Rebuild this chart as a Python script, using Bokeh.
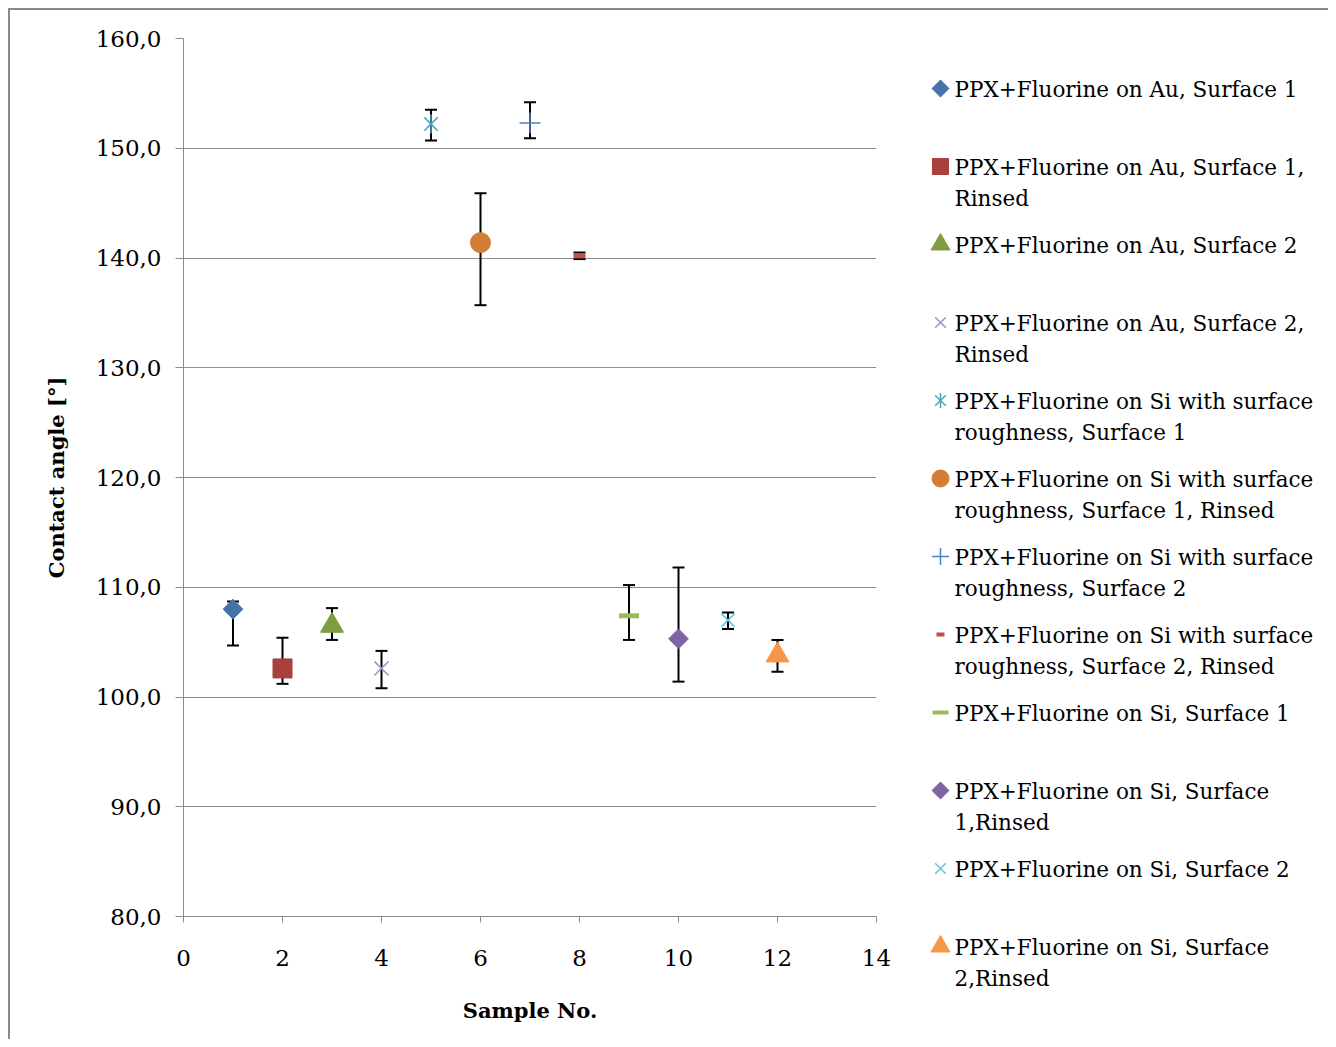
import math
from bokeh.plotting import figure
from bokeh.models import ColumnDataSource, Whisker, TeeHead, Range1d, FixedTicker
from bokeh.layouts import row, column
from bokeh.core.properties import value
from bokeh.embed import file_html
from bokeh.resources import INLINE

# ---------------- data ----------------
sample_no = [1, 2, 3, 4, 5, 6, 7, 8, 9, 10, 11, 12]
contact_angle = [108.0, 102.6, 106.5, 102.6, 152.2, 141.4, 152.3, 140.2, 107.4, 105.3, 107.0, 103.8]
err_upper = [108.7, 105.4, 108.1, 104.2, 153.5, 145.9, 154.2, 140.5, 110.2, 111.8, 107.7, 105.2]
err_lower = [104.7, 101.2, 105.2, 100.8, 150.7, 135.7, 150.9, 139.9, 105.2, 101.4, 106.2, 102.3]
series_names = [
    "PPX+Fluorine on Au, Surface 1",
    "PPX+Fluorine on Au, Surface 1,\nRinsed",
    "PPX+Fluorine on Au, Surface 2",
    "PPX+Fluorine on Au, Surface 2,\nRinsed",
    "PPX+Fluorine on Si with surface\nroughness, Surface 1",
    "PPX+Fluorine on Si with surface\nroughness, Surface 1, Rinsed",
    "PPX+Fluorine on Si with surface\nroughness, Surface 2",
    "PPX+Fluorine on Si with surface\nroughness, Surface 2, Rinsed",
    "PPX+Fluorine on Si, Surface 1",
    "PPX+Fluorine on Si, Surface\n1,Rinsed",
    "PPX+Fluorine on Si, Surface 2",
    "PPX+Fluorine on Si, Surface\n2,Rinsed",
]
x_ticks = [0, 2, 4, 6, 8, 10, 12, 14]
y_ticks = [80, 90, 100, 110, 120, 130, 140, 150, 160]
y_tick_labels = ["80,0", "90,0", "100,0", "110,0", "120,0", "130,0", "140,0", "150,0", "160,0"]

# ---------------- styles ----------------
# (marker list, color, plot size, legend size, line width)
styles = [
    (["rdiamond"], "#4472AA", 14, 12, 1),
    (["square"], "#A8413E", 19, 16, 1),
    (["triangle"], "#7E9C40", 23, 19, 1),
    (["x"], "#A48FC4", 20, 15, 1.5),
    (["x", "vdash"], "#4BA3BA", 19, 15, 1.5),
    (["circle"], "#D27E36", 20, 17, 1),
    (["cross"], "#4F81BD", 21, 17, 1.5),
    (["dash"], "#C0504D", 12, 8, 5),
    (["dash"], "#9BBB59", 20, 16, 5),
    (["rdiamond"], "#8064A2", 14, 12, 1),
    (["x"], "#5BC6E2", 19, 15, 1.5),
    (["triangle"], "#F79646", 23, 19, 1),
]

FONT = "DejaVu Serif"
GRID = "#8c8c8c"

W_MAIN, W_LEG, H = 900, 418, 1029

p = figure(width=W_MAIN, height=H, output_backend="svg", toolbar_location=None,
           x_range=Range1d(0, 14), y_range=Range1d(80, 160),
           min_border_left=173, min_border_right=W_MAIN - 173 - 693,
           min_border_top=28, min_border_bottom=H - 28 - 878)
p.outline_line_color = None
p.background_fill_color = "white"
p.border_fill_color = "white"
p.xgrid.visible = False
p.ygrid.grid_line_color = GRID
p.ygrid.grid_line_width = 1
p.ygrid.ticker = FixedTicker(ticks=y_ticks)

p.xaxis.ticker = FixedTicker(ticks=x_ticks)
p.yaxis.ticker = FixedTicker(ticks=y_ticks)
p.yaxis.major_label_overrides = {t: l for t, l in zip(y_ticks, y_tick_labels)}
for ax in (p.xaxis[0], p.yaxis[0]):
    ax.axis_line_color = GRID
    ax.major_tick_line_color = GRID
    ax.minor_tick_line_color = None
    ax.major_tick_in = 0
    ax.major_label_text_font = FONT
    ax.major_label_text_font_size = "23px"
    ax.major_label_text_color = "black"
    ax.axis_label_text_font = FONT
    ax.axis_label_text_font_size = "21px"
    ax.axis_label_text_font_style = "bold"
    ax.axis_label_text_color = "black"
p.xaxis.major_tick_out = 6
p.yaxis.major_tick_out = 8
p.xaxis.major_label_standoff = 27
p.yaxis.major_label_standoff = 14
p.xaxis.axis_label = "Sample No."
p.yaxis.axis_label = "Contact angle [°]"
p.xaxis.axis_label_standoff = 29
p.yaxis.axis_label_standoff = 24

src = ColumnDataSource(dict(x=sample_no, y=contact_angle, upper=err_upper, lower=err_lower))
whisk = Whisker(source=src, base="x", upper="upper", lower="lower", dimension="height",
                line_color="black", line_width=2,
                upper_head=TeeHead(size=12, line_color="black", line_width=2),
                lower_head=TeeHead(size=12, line_color="black", line_width=2))
p.add_layout(whisk)


def draw_marker(fig, x, y, markers, color, size, lw):
    for m in markers:
        if m == "vdash":
            fig.scatter([x], [y], marker="dash", angle=math.pi / 2, size=size,
                        line_color=color, line_width=lw)
        elif m in ("x", "cross"):
            fig.scatter([x], [y], marker=m, size=size, line_color=color, line_width=lw)
        elif m == "dash":
            fig.scatter([x], [y], marker="dash", size=size, line_color=color, line_width=lw)
        elif m == "rdiamond":
            fig.scatter([x], [y], marker="square", angle=math.pi / 4, size=size,
                        fill_color=color, line_color=color, line_width=lw)
        else:
            fig.scatter([x], [y], marker=m, size=size, fill_color=color,
                        line_color=color, line_width=lw)


for i in range(len(sample_no)):
    mk, col, sz, lsz, lw = styles[i]
    draw_marker(p, sample_no[i], contact_angle[i], mk, col, sz, lw)

# ---------------- legend panel ----------------
leg = figure(width=W_LEG, height=H, output_backend="svg", toolbar_location=None,
             x_range=Range1d(0, W_LEG), y_range=Range1d(H, 0),
             min_border=0)
leg.axis.visible = False
leg.grid.visible = False
leg.outline_line_color = None
leg.background_fill_color = "white"
leg.border_fill_color = "white"

slot = 78
first = 78
for i, name in enumerate(series_names):
    mk, col, sz, lsz, lw = styles[i]
    yc = first + slot * i
    draw_marker(leg, 30, yc, mk, col, lsz, lw if lw < 5 else 4)
    leg.text([44], [yc - 12], text=[name], text_font=value(FONT), text_font_size="21.5px",
             text_baseline="top", text_align="left", text_color="black",
             text_line_height=1.24)

layout = row(p, column(leg),
             styles={"margin-left": "8px", "margin-top": "8px",
                     "border-left": "2px solid #8a8a8a", "border-top": "2px solid #8a8a8a"})

open("out.html", "w").write(file_html(layout, INLINE))
